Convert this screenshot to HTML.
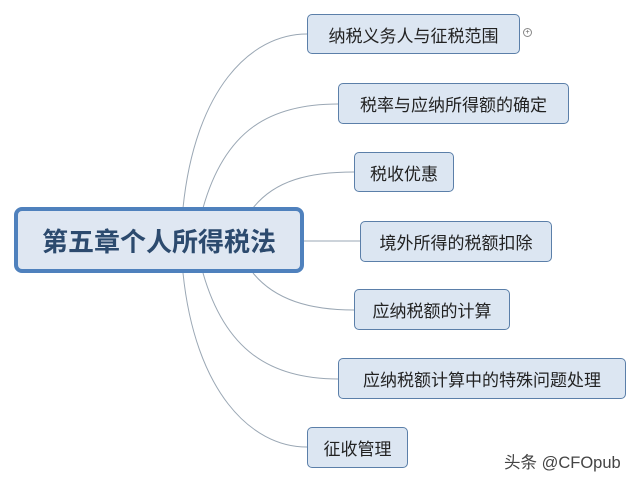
<!DOCTYPE html>
<html><head><meta charset="utf-8"><style>
body{margin:0;width:640px;height:483px;background:#fff;position:relative;overflow:hidden;font-family:"Liberation Sans","Noto Sans CJK SC",sans-serif}
.b{position:absolute;box-sizing:border-box;background:#dce6f2;border:1.5px solid #5b7fa9;border-radius:5px;font-size:17px;color:#222;display:flex;align-items:center;justify-content:center}
.c{position:absolute;left:14px;top:207px;width:290px;height:66px;box-sizing:border-box;background:#dfe7f2;border:4px solid #4f81bd;border-radius:8px;display:flex;align-items:center;justify-content:center;font-size:26px;font-weight:bold;color:#2c4a6e}
</style></head><body>
<svg width="640" height="483" style="position:absolute;left:0;top:0" fill="none" stroke="#9aa7b4" stroke-width="1">
<path d="M183 208 C195 90 250 34 307 34"/>
<path d="M203 208 C225 130 270 104 338 104"/>
<path d="M253 208 C275 180 310 172 354 172"/>
<path d="M304 241 L360 241"/>
<path d="M253 273 C275 300 310 310 354 310"/>
<path d="M203 273 C225 350 270 379 338 379"/>
<path d="M183 273 C195 390 250 447 307 447"/>
</svg>
<div class="c">第五章个人所得税法</div>
<div class="b" style="left:307px;top:14px;width:213px;height:40px">纳税义务人与征税范围</div>
<div style="position:absolute;left:523px;top:28px;width:7px;height:7px;border:1px solid #888;border-radius:50%;font-size:7px;line-height:7px;text-align:center;color:#555">+</div>
<div class="b" style="left:338px;top:83px;width:231px;height:41px">税率与应纳所得额的确定</div>
<div class="b" style="left:354px;top:152px;width:100px;height:40px">税收优惠</div>
<div class="b" style="left:360px;top:221px;width:192px;height:41px">境外所得的税额扣除</div>
<div class="b" style="left:354px;top:289px;width:156px;height:41px">应纳税额的计算</div>
<div class="b" style="left:338px;top:358px;width:288px;height:41px">应纳税额计算中的特殊问题处理</div>
<div class="b" style="left:307px;top:427px;width:101px;height:41px">征收管理</div>
<div style="position:absolute;left:504px;top:449px;font-size:16.5px;color:#444;white-space:nowrap">头条 @CFOpub</div>
</body></html>
